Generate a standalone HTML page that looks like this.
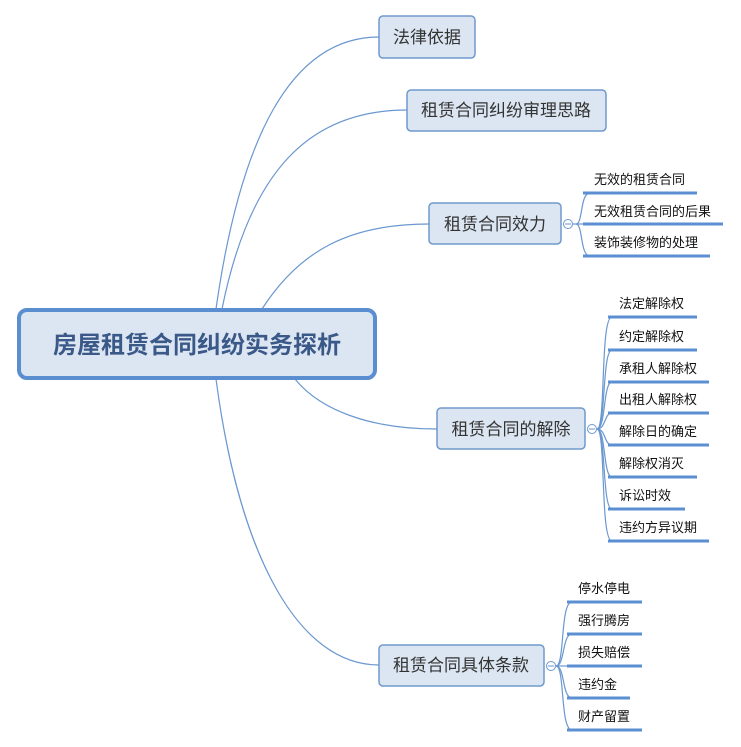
<!DOCTYPE html>
<html><head><meta charset="utf-8"><style>
html,body{margin:0;padding:0;background:#fff;}
svg{display:block;}
text{font-family:"Liberation Sans","Noto Sans CJK SC",sans-serif;}
</style></head><body>
<svg width="741" height="747" viewBox="0 0 741 747" xmlns="http://www.w3.org/2000/svg">
<g fill="none" stroke="#6a97d0" stroke-width="1.2">
<path d="M216,309 C240,140 290,37 379,37"/>
<path d="M222,309 C250,170 310,110 407,110"/>
<path d="M262,309 C300,250 350,224 429,224"/>
<path d="M295,379 C320,410 370,429 437,429"/>
<path d="M216,379 C240,560 300,665 379,665"/>
<path d="M573,224 L583,224"/>
<path d="M576,224 C583,224 580,193 590,193"/>
<path d="M576,224 C583,224 580,256 590,256"/>
<path d="M597,429 C606,429 600,317 612,317"/>
<path d="M597,429 C606,429 602,350 612,350"/>
<path d="M597,429 C606,429 603,382 612,382"/>
<path d="M597,429 C606,429 604,413 612,413"/>
<path d="M597,429 C606,429 604,445 612,445"/>
<path d="M597,429 C606,429 603,477 612,477"/>
<path d="M597,429 C606,429 602,509 612,509"/>
<path d="M597,429 C606,429 600,541 612,541"/>
<path d="M556,666 C565,666 560,602 572,602"/>
<path d="M556,666 C565,666 562,634 572,634"/>
<path d="M556,666 L572,666"/>
<path d="M556,666 C565,666 562,698 572,698"/>
<path d="M556,666 C565,666 560,730 572,730"/>
</g>
<g stroke="#5b8fd2" stroke-width="3" fill="none">
<path d="M583,193H697M583,224H723M583,256H710"/>
<path d="M608,317H697M608,350H697M608,382H709M608,413H709M608,445H709M608,477H697M608,509H685M608,541H709"/>
<path d="M567,602H642M567,634H642M567,666H642M567,698H630M567,730H642"/>
</g>
<g fill="#fff" stroke="#6a97d0" stroke-width="1">
<circle cx="568" cy="224" r="4.5"/><circle cx="592" cy="429" r="4.5"/><circle cx="551" cy="666" r="4.5"/>
</g>
<g stroke="#6a97d0" stroke-width="1"><path d="M565,224h6M589,429h6M548,666h6"/></g>
<rect x="19" y="310" width="356" height="68" rx="8" fill="#dce6f2" stroke="#5a8ed0" stroke-width="4"/>
<text x="197" y="353" text-anchor="middle" font-size="24" font-weight="bold" fill="#3a5888">房屋租赁合同纠纷实务探析</text>
<g fill="#dce6f2" stroke="#6f98cb" stroke-width="1.5">
<rect x="379" y="16" width="96" height="42" rx="4"/>
<rect x="407" y="90" width="199" height="41" rx="4"/>
<rect x="429" y="203" width="132" height="41" rx="4"/>
<rect x="437" y="408" width="148" height="41" rx="4"/>
<rect x="379" y="645" width="165" height="41" rx="4"/>
</g>
<g font-size="17" fill="#333" text-anchor="middle">
<text x="427" y="43">法律依据</text>
<text x="506" y="116">租赁合同纠纷审理思路</text>
<text x="495" y="230">租赁合同效力</text>
<text x="511" y="435">租赁合同的解除</text>
<text x="461" y="671">租赁合同具体条款</text>
</g>
<g font-size="13" fill="#111">
<text x="594" y="184">无效的租赁合同</text>
<text x="594" y="216">无效租赁合同的后果</text>
<text x="594" y="247">装饰装修物的处理</text>
<text x="619" y="308">法定解除权</text>
<text x="619" y="341">约定解除权</text>
<text x="619" y="373">承租人解除权</text>
<text x="619" y="404">出租人解除权</text>
<text x="619" y="436">解除日的确定</text>
<text x="619" y="468">解除权消灭</text>
<text x="619" y="500">诉讼时效</text>
<text x="619" y="532">违约方异议期</text>
<text x="578" y="593">停水停电</text>
<text x="578" y="625">强行腾房</text>
<text x="578" y="657">损失赔偿</text>
<text x="578" y="689">违约金</text>
<text x="578" y="721">财产留置</text>
</g>
</svg>
</body></html>
